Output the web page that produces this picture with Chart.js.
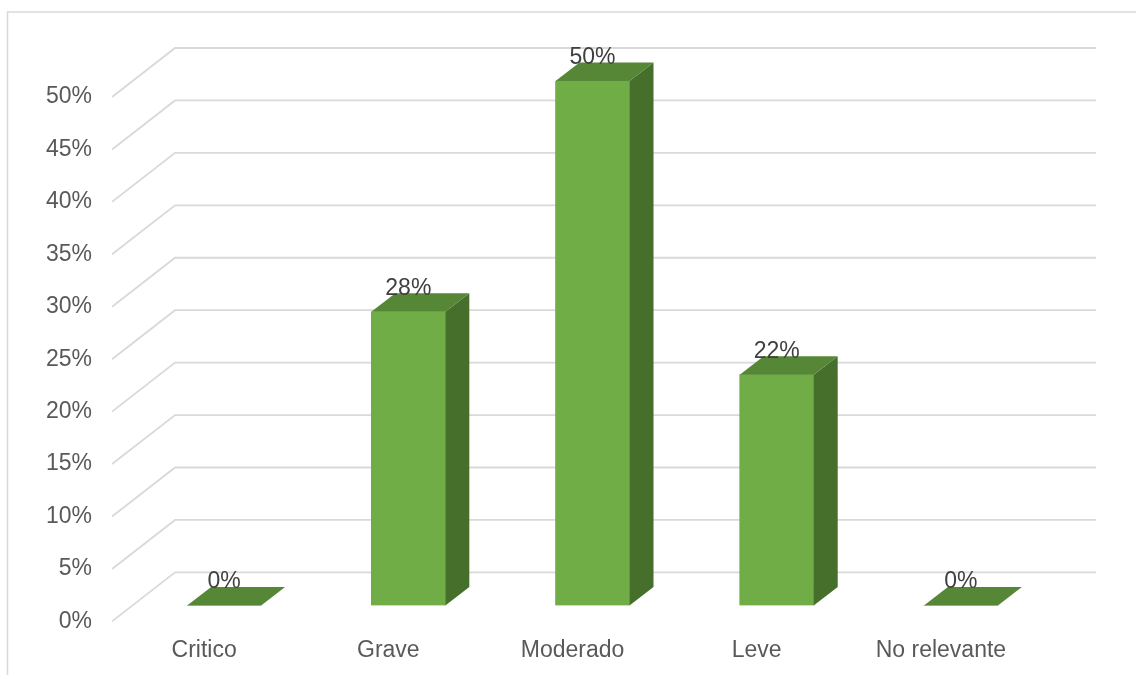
<!DOCTYPE html>
<html>
<head>
<meta charset="utf-8">
<script src="https://cdn.jsdelivr.net/npm/chart.js@4"></script>
<style>
  body { margin: 0; background: #fff; }
  canvas { display: block; }
</style>
</head>
<body>
<canvas id="myChart" width="1136" height="675"></canvas>
<script>
const categories = ['Critico', 'Grave', 'Moderado', 'Leve', 'No relevante'];
const percentages = [0, 28, 50, 22, 0];
const yTicks = [0, 5, 10, 15, 20, 25, 30, 35, 40, 45, 50];

// depth offsets for the fake 3d look
const WALL_DX = 63, WALL_DY = -49;   // front plane -> back wall
const BAR_DX = 20, BAR_DY = -16;     // front plane -> bar front face
const DEPTH_DX = 24, DEPTH_DY = -18.5; // bar thickness

const frame = {
    id: 'frame',
    beforeDraw(chart) {
        const ctx = chart.ctx;
        ctx.save();
        ctx.fillStyle = '#ffffff';
        ctx.fillRect(0, 0, chart.width, chart.height);
        ctx.strokeStyle = '#d9d9d9';
        ctx.lineWidth = 1.5;
        ctx.beginPath();
        ctx.moveTo(7.5, chart.height + 2);
        ctx.lineTo(7.5, 12);
        ctx.lineTo(chart.width + 2, 12);
        ctx.stroke();
        ctx.restore();
    }
};

const grid3d = {
    id: 'grid3d',
    beforeDatasetsDraw(chart) {
        const ctx = chart.ctx;
        const area = chart.chartArea;
        const y = chart.scales.y;
        ctx.save();
        ctx.strokeStyle = '#d9d9d9';
        ctx.lineWidth = 1.8;
        yTicks.forEach(v => {
            const py = y.getPixelForValue(v);
            ctx.beginPath();
            ctx.moveTo(area.left, py);
            ctx.lineTo(area.left + WALL_DX, py + WALL_DY);
            ctx.lineTo(area.right + WALL_DX, py + WALL_DY);
            ctx.stroke();
        });
        ctx.restore();
        // push the bars back into the box
        ctx.save();
        ctx.translate(BAR_DX, BAR_DY);
    },
    afterDatasetsDraw(chart) {
        const ctx = chart.ctx;
        const meta = chart.getDatasetMeta(0);
        meta.data.forEach((bar, i) => {
            const p = bar.getProps(['x', 'y', 'base', 'width'], true);
            const xl = p.x - p.width / 2, xr = p.x + p.width / 2;
            const yt = p.y, yb = p.base;
            // side
            ctx.fillStyle = '#476f2c';
            ctx.beginPath();
            ctx.moveTo(xr, yt);
            ctx.lineTo(xr + DEPTH_DX, yt + DEPTH_DY);
            ctx.lineTo(xr + DEPTH_DX, yb + DEPTH_DY);
            ctx.lineTo(xr, yb);
            ctx.closePath();
            ctx.fill();
            // top
            ctx.fillStyle = '#568737';
            ctx.beginPath();
            ctx.moveTo(xl, yt);
            ctx.lineTo(xr, yt);
            ctx.lineTo(xr + DEPTH_DX, yt + DEPTH_DY);
            ctx.lineTo(xl + DEPTH_DX, yt + DEPTH_DY);
            ctx.closePath();
            ctx.fill();
            // value label
            ctx.fillStyle = '#404040';
            ctx.font = '23px "Liberation Sans", Arial, sans-serif';
            ctx.textAlign = 'center';
            ctx.textBaseline = 'middle';
            ctx.fillText(percentages[i] + '%', p.x, yt + DEPTH_DY - 5);
        });
        ctx.restore();
    }
};

const ctx = document.getElementById('myChart').getContext('2d');

const myChart = new Chart(ctx, {
    type: 'bar',
    data: {
        labels: categories,
        datasets: [
            {
                data: percentages,
                backgroundColor: '#70ad47',
                borderWidth: 0,
                barThickness: 74
            }
        ]
    },
    options: {
        responsive: false,
        devicePixelRatio: 1,
        animation: false,
        layout: {
            padding: { left: 26, right: 103, top: 97, bottom: -4 }
        },
        plugins: {
            legend: { display: false },
            tooltip: { enabled: false }
        },
        scales: {
            x: {
                grid: { display: false, drawTicks: false },
                border: { display: false },
                ticks: {
                    color: '#595959',
                    padding: 15,
                    font: { size: 23, family: '"Liberation Sans", Arial, sans-serif' }
                }
            },
            y: {
                min: 0,
                max: 50,
                grid: { display: false, drawTicks: false },
                border: { display: false },
                ticks: {
                    stepSize: 5,
                    color: '#595959',
                    padding: 20,
                    font: { size: 23, family: '"Liberation Sans", Arial, sans-serif' },
                    callback: v => v + '%'
                }
            }
        }
    },
    plugins: [frame, grid3d]
});
</script>
</body>
</html>
